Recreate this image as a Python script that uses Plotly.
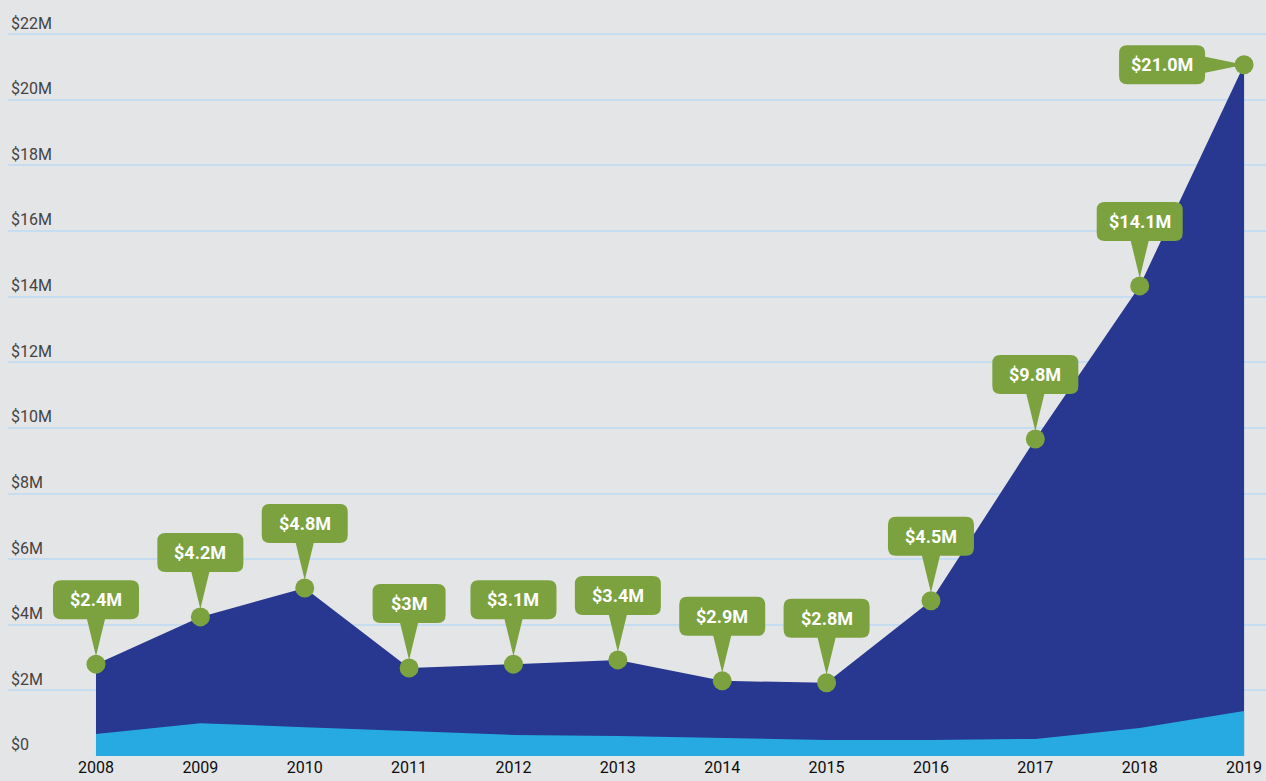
import plotly.graph_objects as go

# values (millions of dollars)
years = [2008, 2009, 2010, 2011, 2012, 2013, 2014, 2015, 2016, 2017, 2018, 2019]
total = [2.80, 4.24, 5.12, 2.68, 2.80, 2.93, 2.29, 2.23, 4.73, 9.66, 14.33, 21.07]
lower = [0.67, 1.00, 0.88, 0.76, 0.64, 0.61, 0.55, 0.49, 0.49, 0.52, 0.85, 1.37]
labels = ["$2.4M", "$4.2M", "$4.8M", "$3M", "$3.1M", "$3.4M",
          "$2.9M", "$2.8M", "$4.5M", "$9.8M", "$14.1M", "$21.0M"]
ytick_vals = [0, 2, 4, 6, 8, 10, 12, 14, 16, 18, 20, 22]
ytick_text = ["$0", "$2M", "$4M", "$6M", "$8M", "$10M", "$12M",
              "$14M", "$16M", "$18M", "$20M", "$22M"]

BG = "#e4e5e7"
NAVY = "#283891"
SKY = "#27aae1"
GREEN = "#7ba23f"
GRID = "#c6dcf0"
FONT = "Roboto, sans-serif"


def callout_above(w, h=39, gap=45, r=8, tip=8, base=9):
    """Rounded box above the anchor with a pointer down to it (pixels, y up)."""
    hw = w / 2
    b, t = gap, gap + h
    return (f"M {-base},{b} L 0,{tip} L {base},{b} L {hw - r},{b} "
            f"Q {hw},{b} {hw},{b + r} L {hw},{t - r} Q {hw},{t} {hw - r},{t} "
            f"L {-hw + r},{t} Q {-hw},{t} {-hw},{t - r} L {-hw},{b + r} "
            f"Q {-hw},{b} {-hw + r},{b} Z")


def callout_left(w, h=39, gap=39, r=8, base=8):
    """Rounded box left of the anchor with a pointer to the right."""
    hh = h / 2
    rx, lx = -gap, -gap - w
    return (f"M {rx},{base} L 0,0 L {rx},{-base} L {rx},{-hh + r} "
            f"Q {rx},{-hh} {rx - r},{-hh} L {lx + r},{-hh} Q {lx},{-hh} {lx},{-hh + r} "
            f"L {lx},{hh - r} Q {lx},{hh} {lx + r},{hh} L {rx - r},{hh} "
            f"Q {rx},{hh} {rx},{hh - r} Z")


fig = go.Figure()
fig.add_trace(go.Scatter(x=years, y=total, mode="lines", fill="tozeroy",
                         line=dict(width=0, color=NAVY), fillcolor=NAVY,
                         hoverinfo="skip"))
fig.add_trace(go.Scatter(x=years, y=lower, mode="lines", fill="tozeroy",
                         line=dict(width=0, color=SKY), fillcolor=SKY,
                         hoverinfo="skip"))
fig.add_trace(go.Scatter(x=years, y=total, mode="markers",
                         marker=dict(size=19, color=GREEN), hoverinfo="skip"))

for i, (yr, val, lab) in enumerate(zip(years, total, labels)):
    w = 73 if len(lab) <= 3 else 86
    last = i == len(years) - 1
    fig.add_shape(type="path", xref="x", yref="y", xsizemode="pixel",
                  ysizemode="pixel", xanchor=yr, yanchor=val,
                  path=callout_left(w) if last else callout_above(w),
                  fillcolor=GREEN, line=dict(width=0), layer="above")
    fig.add_annotation(x=yr, y=val, text=f"<b>{lab}</b>", showarrow=False,
                       xshift=-39 - w / 2 if last else 0,
                       yshift=0 if last else 45 + 19.5,
                       font=dict(family=FONT, size=18, color="white"))

fig.update_layout(
    width=1266, height=781,
    margin=dict(l=8, r=0, t=8, b=25),
    paper_bgcolor=BG, plot_bgcolor=BG,
    showlegend=False,
    font=dict(family=FONT, size=16, color="#0d0d0d"),
)
fig.update_xaxes(range=[2007.157, 2019.21], tickvals=years,
                 showgrid=False, zeroline=False, showline=False,
                 ticks="", tickfont=dict(size=16), automargin=False)
fig.update_yaxes(range=[0, 22.8], tickvals=ytick_vals, ticktext=ytick_text,
                 ticklabelposition="inside top", showgrid=True,
                 gridcolor=GRID, gridwidth=1.5, zeroline=False,
                 showline=False, tickfont=dict(size=16), automargin=False)

fig.write_html("out.html", config={"displayModeBar": False},
               post_script="document.body.style.margin='0';")
